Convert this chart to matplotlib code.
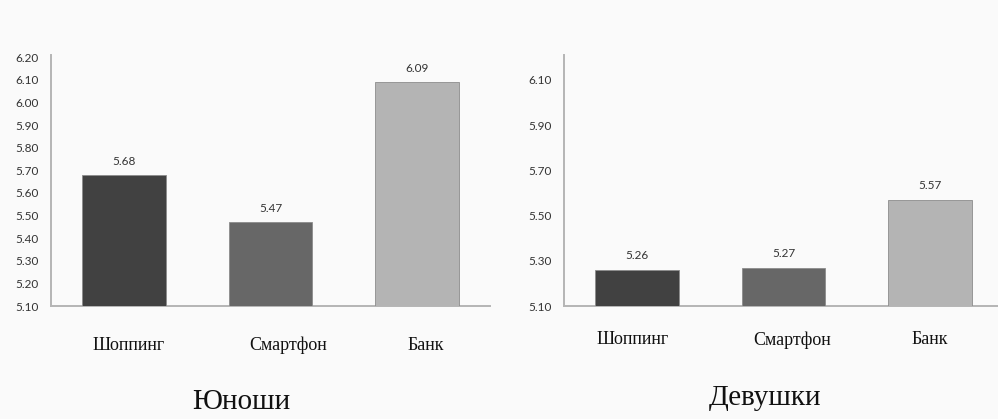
import matplotlib
matplotlib.use("Agg")
import matplotlib.pyplot as plt
import numpy as np

categories = ["Шоппинг", "Смартфон", "Банк"]
boys = [5.68, 5.47, 6.09]
girls = [5.26, 5.27, 5.57]
boys_ticks = [5.10, 5.20, 5.30, 5.40, 5.50, 5.60, 5.70, 5.80, 5.90, 6.00, 6.10, 6.20]
girls_ticks = [5.10, 5.30, 5.50, 5.70, 5.90, 6.10]
titles = ["Юноши", "Девушки"]

colors = ["#414141", "#676767", "#b4b4b4"]
bg = "#fafafa"

fig = plt.figure(figsize=(9.98, 4.19), dpi=100, facecolor=bg)

W, H = 998.0, 419.0
bottom_px = 306.0
top_px = 55.0

def make_axes(left_px, right_px):
    return fig.add_axes([left_px / W, (H - bottom_px) / H,
                         (right_px - left_px) / W, (bottom_px - top_px) / H])

ax1 = make_axes(51, 490)
ax2 = make_axes(564, 1003)

def draw(ax, vals, yticks, label_shift, label_pad):
    x = np.arange(len(vals))
    base = 5.10
    ax.bar(x, np.array(vals) - base, bottom=base, width=0.57,
           color=colors, edgecolor="#8c8c8c", linewidth=0.6, zorder=3)
    for xi, v in zip(x, vals):
        ax.annotate(f"{v:.2f}", (xi, v), xytext=(0, 6), textcoords="offset points",
                    ha="center", va="bottom", fontsize=8.5, family="Lato",
                    color="#333333")
    ax.set_xlim(-0.5, 2.5)
    ax.set_ylim(5.10, 6.21)
    ax.set_yticks(yticks)
    ax.set_yticklabels([f"{t:.2f}" for t in yticks], family="Lato", fontsize=8.5,
                       color="#333333")
    ax.set_xticks(x + np.array(label_shift))
    ax.set_xticklabels(categories, family="Liberation Serif", fontsize=13,
                       color="#111111")
    ax.tick_params(axis="y", length=0, pad=9)
    ax.tick_params(axis="x", length=0, pad=label_pad)
    ax.set_facecolor(bg)
    for s in ["top", "right"]:
        ax.spines[s].set_visible(False)
    for s in ["left", "bottom"]:
        ax.spines[s].set_color("#b5b5b5")
        ax.spines[s].set_linewidth(1.4)

draw(ax1, boys, boys_ticks, [0.03, 0.12, 0.06], 22)
draw(ax2, girls, girls_ticks, [-0.03, 0.06, 0.0], 18)

fig.text(241 / W, 1 - 402 / H, titles[0], family="Liberation Serif", fontsize=21,
         ha="center", va="center", color="#111111")
fig.text(765 / W, 1 - 398 / H, titles[1], family="Liberation Serif", fontsize=21,
         ha="center", va="center", color="#111111")

fig.savefig("out.png", dpi=100, facecolor=bg)
